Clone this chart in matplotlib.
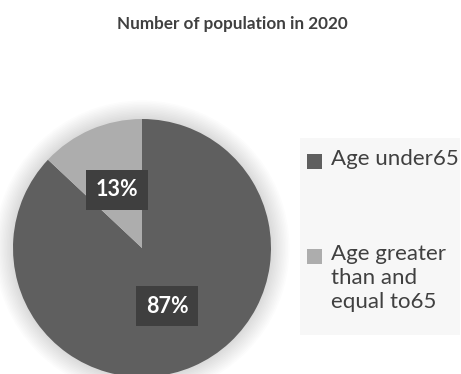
import matplotlib
matplotlib.use('Agg')
import matplotlib.pyplot as plt
from matplotlib.patches import Circle, Rectangle

plt.rcParams['font.family'] = ['Lato', 'DejaVu Sans']

title = 'Number of population in 2020'
labels = ['Age under65', 'Age greater\nthan and\nequal to65']
values = [87, 13]
colors = ['#5f5f5f', '#adadad']

W, H = 461, 374
fig = plt.figure(figsize=(W / 100, H / 100), dpi=100)
fig.patch.set_facecolor('white')

# pie centred at (142, 248) px, radius 129 px
cx, cy, r = 142, 248, 129
ax = fig.add_axes([(cx - r) / W, (H - cy - r) / H, 2 * r / W, 2 * r / H])
ax.axis('off')

# soft glow behind the pie
for i in range(12):
    ax.add_patch(Circle((0, 0), 1.0 + 0.012 * (12 - i), color='#000000',
                        alpha=0.012, lw=0, zorder=0, clip_on=False))

wedges, texts, autotexts = ax.pie(values, colors=colors, startangle=90,
                                  counterclock=False, autopct='%d%%',
                                  pctdistance=0.49, radius=1.0,
                                  wedgeprops=dict(linewidth=0))
for t in autotexts:
    t.set_color('white')
    t.set_fontsize(15.5)
    t.set_fontweight('bold')
    t.set_bbox(dict(facecolor='#3f3f3f', edgecolor='none', boxstyle='square,pad=0.45'))
ax.set_xlim(-1, 1)
ax.set_ylim(-1, 1)

fig.text(232 / W, 1 - 24 / H, title, ha='center', va='center',
         fontsize=12.3, fontweight='bold', color='#404040')

# legend drawn by hand so the swatch sits on the first line
def px(x, y):
    return x / W, 1 - y / H

fig.patches.append(Rectangle(px(300, 335), 160 / W, 197 / H, transform=fig.transFigure,
                             facecolor='#f7f7f7', edgecolor='none', zorder=0))
rows_y = [162, 257]
for lab, col, y in zip(labels, colors, rows_y):
    fig.patches.append(Rectangle(px(307, y + 7), 15 / W, 15 / H, transform=fig.transFigure,
                                 facecolor=col, edgecolor='none'))
    fig.text(*px(331, y - 13), lab, ha='left', va='top', fontsize=16,
             color='#404040', linespacing=1.25)

fig.savefig('out.png', dpi=100)
